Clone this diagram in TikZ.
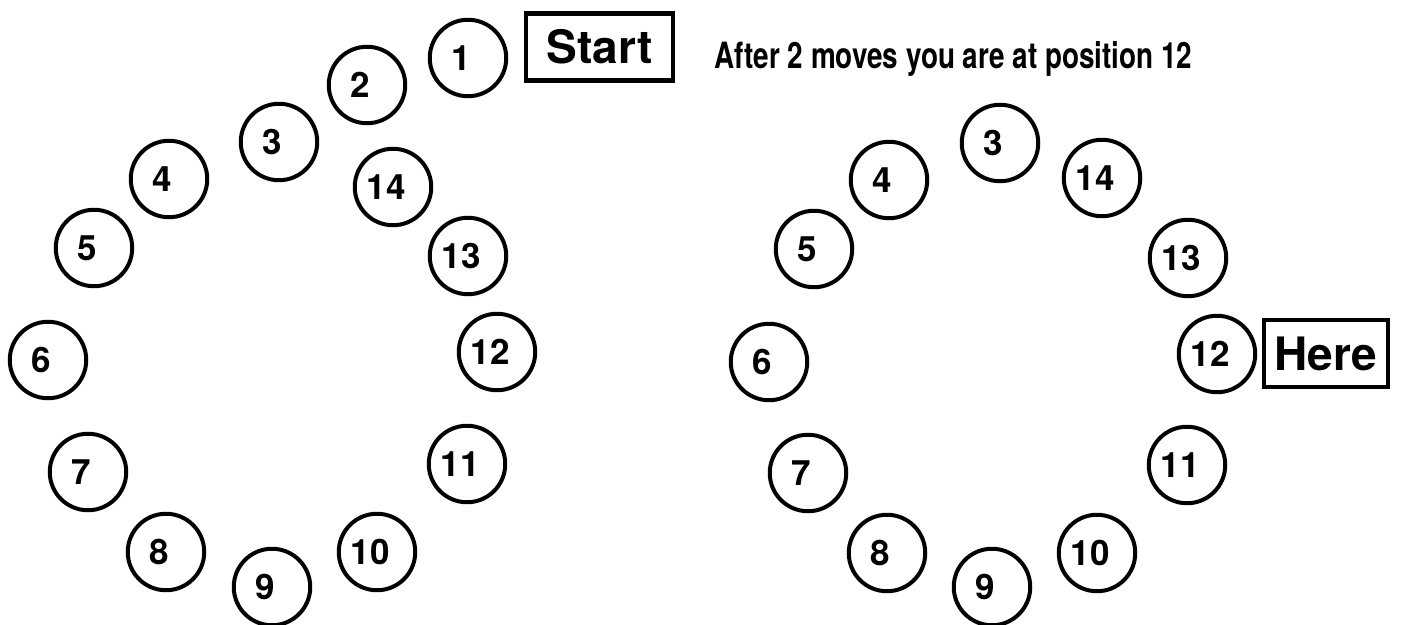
\documentclass[tikz,border=0pt]{standalone}
\usepackage{fontspec}
\setmainfont{TeX Gyre Heros}
\newfontfamily\condfont{TeX Gyre Heros}[FakeStretch=0.77]

\begin{document}
\begin{tikzpicture}[x=0.02cm,y=-0.02cm,font=\bfseries]
 \tikzstyle{ring}=[circle,draw=black,line width=0.08cm,minimum size=1.53cm,inner sep=0pt,font=\fontsize{19.9}{22}\selectfont\bfseries,execute at begin node={\kern-0.28cm}]
 \tikzstyle{tagbox}=[rectangle,draw=black,line width=0.09cm,minimum height=1.35cm,inner sep=0pt,font=\fontsize{26.2}{30}\selectfont\bfseries]
 \tikzstyle{headline}=[font=\condfont\fontsize{20.6}{24}\selectfont\bfseries,anchor=base,inner sep=0pt]
 \useasboundingbox (0,0) rectangle (1401,625);
 % left ring with the start marker
 \node[ring] (l1) at (468,58) {1};
 \node[ring] (l2) at (367,85) {2};
 \node[ring] (l3) at (279,142) {3};
 \node[ring] (l4) at (169,179) {4};
 \node[ring] (l5) at (94,248) {5};
 \node[ring] (l6) at (48,360) {6};
 \node[ring] (l7) at (88,472) {7};
 \node[ring] (l8) at (166,552) {8};
 \node[ring] (l9) at (272,587) {9};
 \node[ring] (l10) at (377,552) {10};
 \node[ring] (l11) at (467,464) {11};
 \node[ring] (l12) at (497,352) {12};
 \node[ring] (l13) at (468,256) {13};
 \node[ring] (l14) at (393,187) {14};
 \node[tagbox,minimum width=2.94cm] (start) at (599.5,47) {Start};
 % right ring after two moves
 \node[headline] (title) at (953.5,69) {After 2 moves you are at position 12};
 \node[ring] (r3) at (1000,143) {3};
 \node[ring] (r4) at (889,180) {4};
 \node[ring] (r5) at (814,249) {5};
 \node[ring] (r6) at (769,362) {6};
 \node[ring] (r7) at (808,473) {7};
 \node[ring] (r8) at (887,553) {8};
 \node[ring] (r9) at (992,587) {9};
 \node[ring] (r10) at (1097,553) {10};
 \node[ring] (r11) at (1187,465) {11};
 \node[ring] (r12) at (1217,354) {12};
 \node[ring] (r13) at (1188,258) {13};
 \node[ring] (r14) at (1102,178) {14};
 \node[tagbox,minimum width=2.48cm] (here) at (1326,353.5) {Here};
\end{tikzpicture}
\end{document}
